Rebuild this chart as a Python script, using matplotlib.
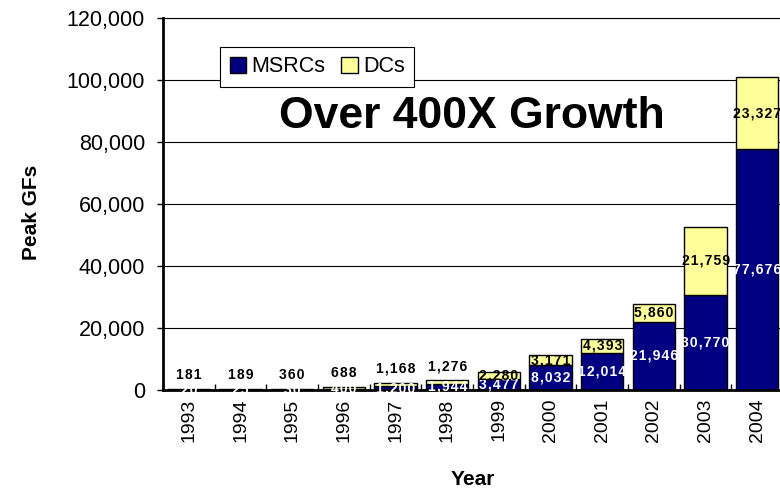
"""
Peak GFs by year, MSRCs vs DCs (stacked bars)
"""
import numpy as np
import matplotlib
matplotlib.use("Agg")
import matplotlib.pyplot as plt
from matplotlib.ticker import FuncFormatter, MultipleLocator

years = ["1993", "1994", "1995", "1996", "1997", "1998",
         "1999", "2000", "2001", "2002", "2003", "2004"]
msrc = [20, 25, 30, 400, 1200, 1944, 3477, 8032, 12014, 21946, 30770, 77676]
dcs = [181, 189, 360, 688, 1168, 1276, 2280, 3171, 4393, 5860, 21759, 23327]

NAVY = "#000080"
YELLOW = "#FFFF99"

plt.rcParams["font.family"] = ["Liberation Sans", "DejaVu Sans"]


def spaced(v):
    # excel-ish wide letter spacing
    return "\u200a".join(f"{v:,}")


fig = plt.figure(figsize=(7.8, 4.91), dpi=100)
ax = fig.add_axes([0.209, 0.2057, 0.795, 0.7576])

x = np.arange(len(years))
w = 0.82
ax.bar(x, msrc, w, color=NAVY, edgecolor="black", linewidth=1, label="MSRCs", zorder=2)
ax.bar(x, dcs, w, bottom=msrc, color=YELLOW, edgecolor="black", linewidth=1, label="DCs", zorder=2)

# data labels
for i in range(len(years)):
    ax.text(x[i], msrc[i] / 2, spaced(msrc[i]), ha="center", va="center",
            color="white", fontsize=10, fontweight="bold", zorder=3)
    top = msrc[i] + dcs[i]
    if dcs[i] < 2000:
        ax.annotate(spaced(dcs[i]), (x[i], top), xytext=(0, 5), textcoords="offset points",
                    ha="center", va="bottom", fontsize=10, fontweight="bold", zorder=3)
    else:
        ax.text(x[i], msrc[i] + dcs[i] / 2, spaced(dcs[i]), ha="center", va="center",
                color="black", fontsize=10, fontweight="bold", zorder=3)

ax.set_xlim(-0.5, len(years) - 0.5)
ax.set_ylim(0, 120000)
ax.yaxis.set_major_locator(MultipleLocator(20000))
ax.yaxis.set_major_formatter(FuncFormatter(lambda v, p: f"{int(v):,}"))
ax.yaxis.grid(True, color="black", linewidth=0.8)
ax.set_axisbelow(True)

ax.set_xticks(x)
ax.set_xticklabels(years, rotation=90)
ax.set_xticks(np.arange(-0.5, len(years)), minor=True)
ax.tick_params(axis="x", which="major", length=0, pad=6, labelsize=14)
ax.tick_params(axis="x", which="minor", direction="in", length=4, width=1)
ax.tick_params(axis="y", direction="out", length=4, width=1, labelsize=15.5, pad=9)

for s in ["left", "bottom"]:
    ax.spines[s].set_linewidth(2)
ax.spines["top"].set_linewidth(0.8)
ax.spines["right"].set_visible(False)

ax.set_xlabel("Year", fontsize=15, fontweight="bold")
ax.xaxis.set_label_coords(0.5, -0.215)
ax.set_ylabel("Peak GFs", fontsize=15, fontweight="bold")
ax.yaxis.set_label_coords(-0.197, 0.478)

ax.text(0.498, 0.736, "Over 400X Growth", transform=ax.transAxes, ha="center", va="center",
        fontsize=32, fontweight="bold")

leg = ax.legend(loc="upper left", bbox_to_anchor=(0.092, 0.923), borderaxespad=0, ncol=2,
                fancybox=False, edgecolor="black", framealpha=1, fontsize=15.5,
                handlelength=0.75, handleheight=0.75, handletextpad=0.25, columnspacing=0.75,
                borderpad=0.45)
leg.get_frame().set_linewidth(0.8)

fig.savefig("out.png", dpi=100)
